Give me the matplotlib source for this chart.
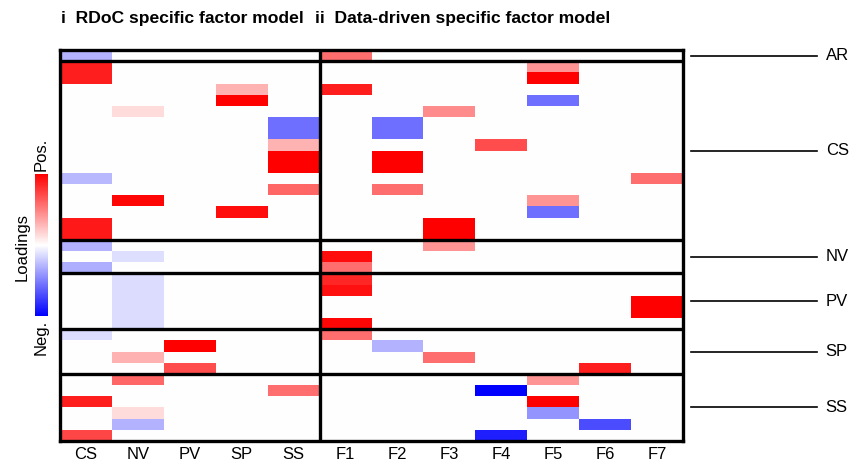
import numpy as np
import matplotlib
matplotlib.use("Agg")
import matplotlib.pyplot as plt

plt.rcParams['font.family'] = ['Liberation Sans', 'DejaVu Sans']

# row groups (domains) and how many items each has
groups = ["AR", "CS", "NV", "PV", "SP", "SS"]
group_sizes = [1, 16, 3, 5, 4, 6]

rdoc_factors = ["CS", "NV", "PV", "SP", "SS"]
data_factors = ["F1", "F2", "F3", "F4", "F5", "F6", "F7"]

# non-zero loadings per factor: {row: loading}
rdoc_cs = {0: -0.3, 1: 0.88, 2: 0.88, 11: -0.28, 15: 0.9, 16: 0.9, 17: -0.3,
           19: -0.32, 25: -0.14, 31: 0.88, 34: 0.72}
rdoc_nv = {5: 0.14, 13: 0.97, 18: -0.13, 20: -0.14, 21: -0.14, 22: -0.14,
           23: -0.14, 24: -0.14, 27: 0.3, 29: 0.6, 32: 0.14, 33: -0.3}
rdoc_pv = {26: 1.0, 28: 0.7}
rdoc_sp = {3: 0.3, 4: 1.0, 14: 0.95}
rdoc_ss = {6: -0.57, 7: -0.57, 8: 0.3, 9: 1.0, 10: 1.0, 12: 0.6, 30: 0.57}

dd_f1 = {0: 0.57, 3: 0.88, 18: 0.95, 19: 0.57, 20: 0.85, 21: 0.93, 24: 0.97, 25: 0.57}
dd_f2 = {6: -0.57, 7: -0.57, 9: 1.0, 10: 1.0, 12: 0.57, 26: -0.3}
dd_f3 = {5: 0.45, 15: 1.0, 16: 1.0, 17: 0.42, 27: 0.57}
dd_f4 = {8: 0.7, 30: -1.0, 34: -0.88}
dd_f5 = {1: 0.42, 2: 1.0, 4: -0.57, 13: 0.42, 14: -0.57, 29: 0.42, 31: 1.0, 32: -0.42}
dd_f6 = {28: 0.88, 33: -0.7}
dd_f7 = {11: 0.57, 22: 1.0, 23: 1.0}

columns = [rdoc_cs, rdoc_nv, rdoc_pv, rdoc_sp, rdoc_ss,
           dd_f1, dd_f2, dd_f3, dd_f4, dd_f5, dd_f6, dd_f7]
n_rows = sum(group_sizes)

mat = np.zeros((n_rows, len(columns)))
for j, col in enumerate(columns):
    for r, v in col.items():
        mat[r, j] = v

fig = plt.figure(figsize=(8.58, 4.65), dpi=100)
ax = fig.add_axes([60/858, 1-441/465, 623/858, 391/465])

mesh = ax.pcolormesh(np.arange(len(columns)+1), np.arange(n_rows+1), mat,
                     cmap='bwr', vmin=-1, vmax=1)
ax.set_xlim(0, len(columns))
ax.set_ylim(n_rows, 0)

# group separators
bounds = np.cumsum(group_sizes)
for b in bounds[:-1]:
    ax.axhline(b, color='black', lw=2.4)
ax.axvline(len(rdoc_factors), color='black', lw=2.4)
for s in ax.spines.values():
    s.set_linewidth(2.4)

ax.set_xticks(np.arange(len(columns)) + 0.5)
ax.set_xticklabels(rdoc_factors + data_factors, fontsize=12)
ax.tick_params(length=0, pad=4)
ax.set_yticks([])

# domain labels on the right
starts = bounds - np.array(group_sizes)
for g, s0, n in zip(groups, starts, group_sizes):
    yc = s0 + n / 2
    ax.plot([1.0128, 1.215], [yc, yc], color='black', lw=1.2,
            transform=ax.get_yaxis_transform(), clip_on=False)
    ax.text(1.229, yc, g, fontsize=12, va='center', ha='left',
            transform=ax.get_yaxis_transform())

# panel titles
fig.text(61/858, 1-18/465, "i  RDoC specific factor model", fontsize=12.6,
         fontweight='bold', va='center', ha='left')
fig.text(315/858, 1-18/465, "ii  Data-driven specific factor model", fontsize=12.6,
         fontweight='bold', va='center', ha='left')

# colour bar
cax = fig.add_axes([35/858, 1-316/465, 13/858, 142/465])
cb = fig.colorbar(mesh, cax=cax)
cb.outline.set_visible(False)
cb.set_ticks([])
fig.text(41/858, 1-171/465, "Pos.", rotation=90, fontsize=12, ha='center', va='bottom')
fig.text(41/858, 1-320/465, "Neg.", rotation=90, fontsize=12, ha='center', va='top')
fig.text(22/858, 1-247/465, "Loadings", rotation=90, fontsize=12, ha='center', va='center')

fig.savefig("out.png", dpi=100)
